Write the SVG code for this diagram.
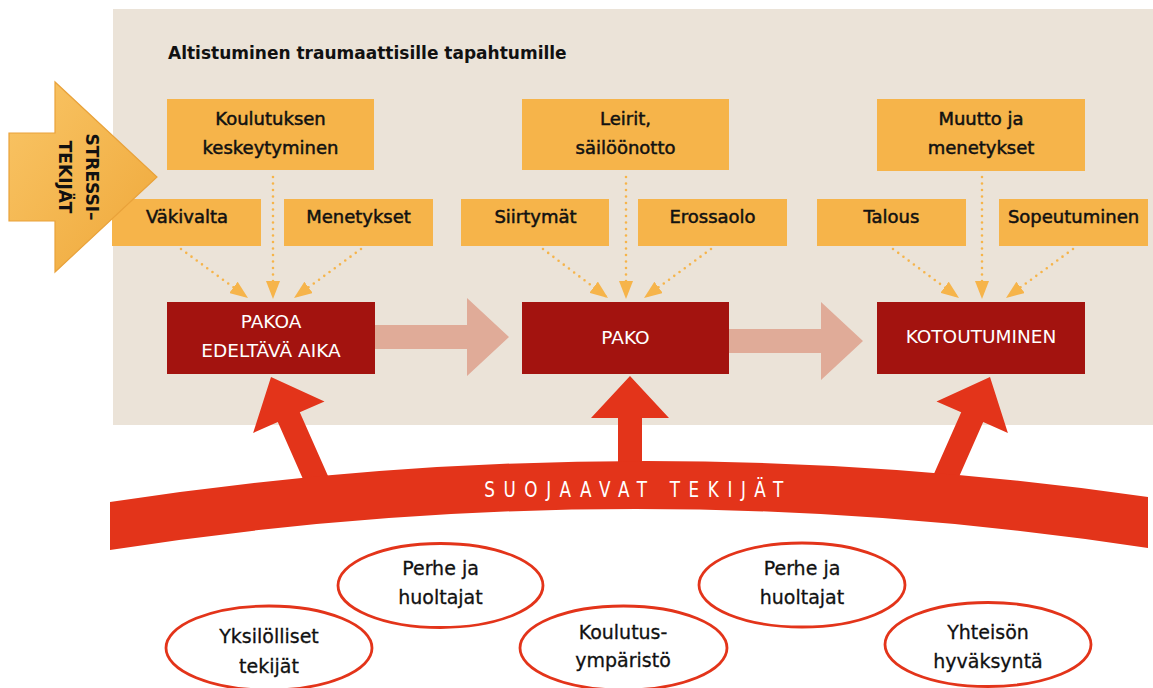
<svg xmlns="http://www.w3.org/2000/svg" width="1153" height="688" viewBox="0 0 1153 688">
<defs>
<style>
.bg{fill:#EBE3D8}
.ybox{fill:#F6B44A}
.rbox{fill:#A3130F}
.yt{font-family:"DejaVu Sans",sans-serif;font-size:18px;fill:#111;text-anchor:middle;stroke:#111;stroke-width:0.5}
.wt{font-family:"DejaVu Sans",sans-serif;font-size:18.5px;fill:#fff;text-anchor:middle}
.et{font-family:"DejaVu Sans",sans-serif;font-size:19px;fill:#111;text-anchor:middle;stroke:#111;stroke-width:0.3}
.ell{fill:#fff;stroke:#E3341A;stroke-width:2.8}
.dot{fill:none;stroke:#F6B44A;stroke-width:2.6;stroke-linecap:round;stroke-dasharray:0 6.5}
.pink{fill:#E0AB98}
.red{fill:#E3341A}
</style>
<marker id="ah" viewBox="0 0 18 14" refX="18" refY="7" markerWidth="18" markerHeight="14" markerUnits="userSpaceOnUse" orient="auto">
<path d="M0,0 L18,7 L0,14 z" fill="#F6B44A"/>
</marker>
<linearGradient id="sg" x1="0" y1="0" x2="1" y2="1">
<stop offset="0" stop-color="#F9C566"/>
<stop offset="1" stop-color="#EFA83A"/>
</linearGradient>
</defs>

<rect class="bg" x="113" y="9" width="1040" height="416"/>
<text x="168" y="59" font-family="DejaVu Sans, sans-serif" font-weight="bold" font-size="17" fill="#111">Altistuminen traumaattisille tapahtumille</text>

<g id="koulutuksen">
<rect class="ybox" x="167" y="99" width="207" height="71"/>
<text class="yt" x="270.5" y="125">Koulutuksen</text>
<text class="yt" x="270.5" y="154">keskeytyminen</text>
</g>
<g id="vakivalta">
<rect class="ybox" x="112" y="199" width="149" height="47"/>
<text class="yt" x="187" y="223">Väkivalta</text>
</g>
<g id="menetykset">
<rect class="ybox" x="284" y="199" width="149" height="47"/>
<text class="yt" x="358.5" y="223">Menetykset</text>
</g>
<g id="leirit">
<rect class="ybox" x="522" y="99" width="207" height="71"/>
<text class="yt" x="625.5" y="125">Leirit,</text>
<text class="yt" x="625.5" y="154">säilöönotto</text>
</g>
<g id="siirtymat">
<rect class="ybox" x="461" y="199" width="148" height="47"/>
<text class="yt" x="535.5" y="223">Siirtymät</text>
</g>
<g id="erossaolo">
<rect class="ybox" x="638" y="199" width="149" height="47"/>
<text class="yt" x="712.5" y="223">Erossaolo</text>
</g>
<g id="muutto">
<rect class="ybox" x="877" y="99" width="208" height="72"/>
<text class="yt" x="981" y="125">Muutto ja</text>
<text class="yt" x="981" y="154">menetykset</text>
</g>
<g id="talous">
<rect class="ybox" x="817" y="199" width="149" height="47"/>
<text class="yt" x="891.5" y="223">Talous</text>
</g>
<g id="sopeutuminen">
<rect class="ybox" x="999" y="199" width="149" height="47"/>
<text class="yt" x="1073.5" y="223">Sopeutuminen</text>
</g>

<g id="connectors">
<path class="dot" d="M181,249 L248,298" marker-end="url(#ah)"/>
<path class="dot" d="M273,177 L273,299" marker-end="url(#ah)"/>
<path class="dot" d="M361,249 L294,298" marker-end="url(#ah)"/>
<path class="dot" d="M543,249 L608,298" marker-end="url(#ah)"/>
<path class="dot" d="M626,177 L626,299" marker-end="url(#ah)"/>
<path class="dot" d="M711,249 L644,298" marker-end="url(#ah)"/>
<path class="dot" d="M893,249 L959,298" marker-end="url(#ah)"/>
<path class="dot" d="M982,177 L982,299" marker-end="url(#ah)"/>
<path class="dot" d="M1073,249 L1006,298" marker-end="url(#ah)"/>
<polygon class="pink" points="375,325 467,325 467,298 509,337 467,376 467,349 375,349"/>
<polygon class="pink" points="729,329 821,329 821,302 863,341 821,380 821,353 729,353"/>
</g>

<g id="pakoa">
<rect class="rbox" x="167" y="302" width="208" height="72"/>
<text class="wt" x="271" y="328">PAKOA</text>
<text class="wt" x="271" y="357">EDELTÄVÄ AIKA</text>
</g>
<g id="pako">
<rect class="rbox" x="522" y="302" width="207" height="72"/>
<text class="wt" x="625.5" y="344">PAKO</text>
</g>
<g id="kotoutuminen">
<rect class="rbox" x="877" y="302" width="208" height="72"/>
<text class="wt" x="981" y="343">KOTOUTUMINEN</text>
</g>

<g id="stressitekijat">
<polygon points="9,133 55,133 55,82 157,177 55,272 55,221 9,221" fill="url(#sg)" stroke="#E9A23A" stroke-width="1.2"/>
<g font-family="DejaVu Sans, sans-serif" font-weight="bold" font-size="17" fill="#111" text-anchor="middle">
<text transform="translate(86,177) rotate(90)">STRESSI–</text>
<text transform="translate(59,177) rotate(90)">TEKIJÄT</text>
</g>
</g>

<g id="suojaavat">
<polygon class="red" points="271,377 324.5,401.4 299.8,412.3 332,485 310,495 277.8,422.1 253.1,433"/>
<polygon class="red" points="990,377 1007.9,433 983.2,422.1 951,495 929,485 961.2,412.3 936.5,401.4"/>
<polygon class="red" points="630,376 669,418 642,418 642,480 618,480 618,418 591,418"/>
<path class="red" d="M110,502 Q629,422.5 1148,497 L1148,548 Q629,469 110,550 Z"/>
<text transform="translate(638,497) scale(0.82,1)" x="0" y="0" font-family="DejaVu Sans, sans-serif" font-size="20.5" letter-spacing="10.5" fill="#fff" text-anchor="middle">SUOJAAVAT TEKIJÄT</text>
</g>

<g id="yksilolliset">
<ellipse class="ell" cx="269" cy="648" rx="103" ry="42"/>
<text class="et" x="269" y="643">Yksilölliset</text>
<text class="et" x="269" y="673">tekijät</text>
</g>
<g id="perhe1">
<ellipse class="ell" cx="440.5" cy="585.5" rx="102.5" ry="42"/>
<text class="et" x="440.5" y="575">Perhe ja</text>
<text class="et" x="440.5" y="604">huoltajat</text>
</g>
<g id="koulutusymparisto">
<ellipse class="ell" cx="623.5" cy="648" rx="103.5" ry="42"/>
<text class="et" x="623" y="639">Koulutus-</text>
<text class="et" x="623" y="667">ympäristö</text>
</g>
<g id="perhe2">
<ellipse class="ell" cx="802" cy="585" rx="103" ry="42"/>
<text class="et" x="802" y="575">Perhe ja</text>
<text class="et" x="802" y="604">huoltajat</text>
</g>
<g id="yhteison">
<ellipse class="ell" cx="988" cy="644.5" rx="103" ry="42"/>
<text class="et" x="988" y="639">Yhteisön</text>
<text class="et" x="988" y="668">hyväksyntä</text>
</g>
</svg>
